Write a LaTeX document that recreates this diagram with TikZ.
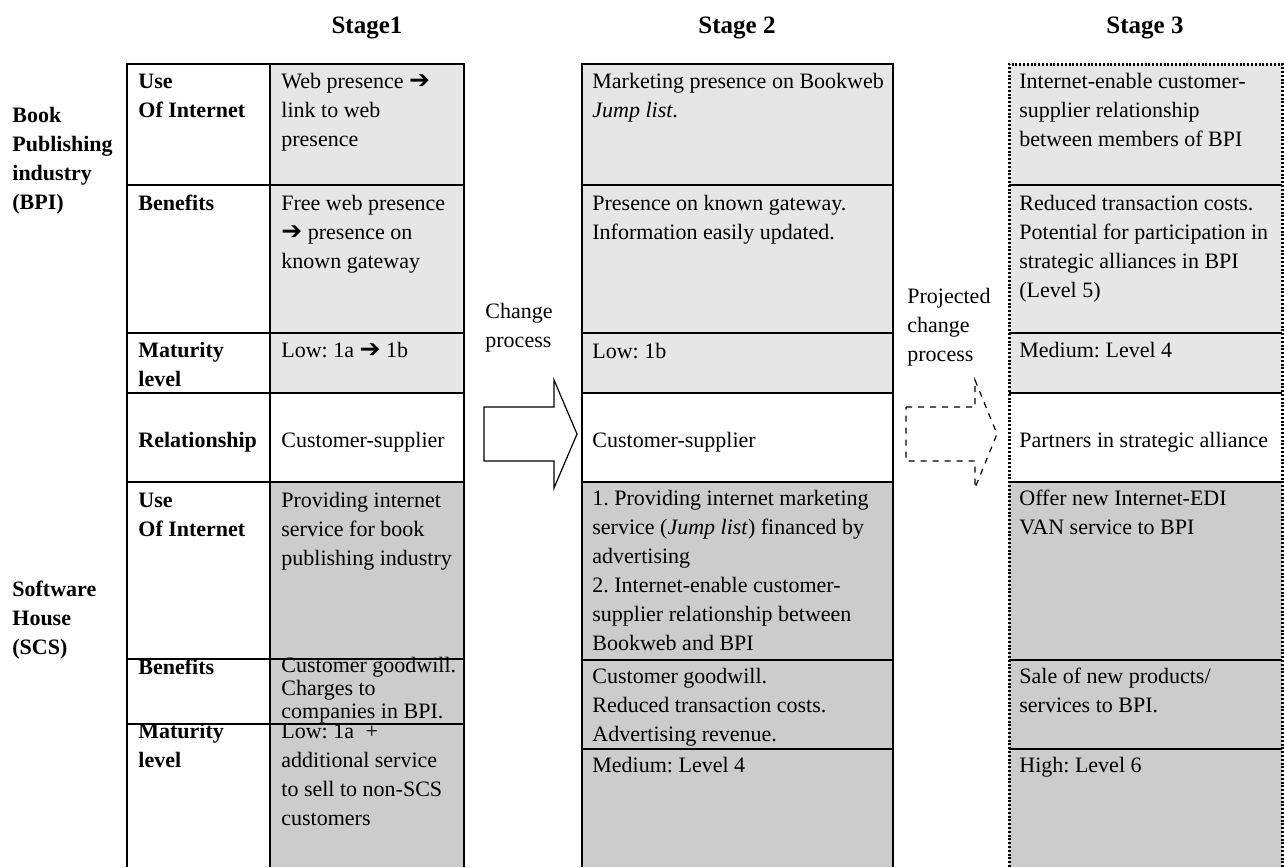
\documentclass[tikz,border=0pt]{standalone}
\usepackage{fontspec}
\setmainfont{Liberation Serif}
\newfontfamily\symfont{DejaVu Sans}
\definecolor{bpigray}{HTML}{E6E6E6}
\definecolor{scsgray}{HTML}{CCCCCC}
\newcommand{\arr}{{\symfont\fontsize{12.5}{12}\selectfont ➔}}
\newcommand{\topstrut}{\rule{0pt}{12pt}}

\begin{document}
\begin{tikzpicture}[x=0.5pt, y=-0.5pt,
    every node/.style={inner sep=0pt, font=\fontsize{11}{14.5}\selectfont\frenchspacing},
    cell/.style={anchor=north west, align=left},
    tightcell/.style={cell, font=\fontsize{11}{11.5}\selectfont\frenchspacing},
    head/.style={cell, font=\fontsize{11}{14.5}\selectfont\bfseries},
    stagetitle/.style={anchor=base, font=\fontsize{12.5}{15}\selectfont\bfseries},
    grid/.style={line width=0.6pt},
    dotborder/.style={line width=1.5pt, dash pattern=on 1pt off 0.9pt}]
  \useasboundingbox (0,0) rectangle (1284,867);

  % stage titles
  \node[stagetitle] (t1) at (367,33) {Stage1};
  \node[stagetitle] (t2) at (737,33) {Stage 2};
  \node[stagetitle] (t3) at (1145,33) {Stage 3};

  % side labels
  \node[head] (bpi) at (12,98) {\topstrut Book\\Publishing\\industry\\(BPI)};
  \node[head] (scs) at (12,572) {\topstrut Software\\House\\(SCS)};

  % cell fills
  \fill[bpigray] (270,64) rectangle (464,393);
  \fill[scsgray] (270,482) rectangle (464,867);
  \fill[bpigray] (582,64) rectangle (893,393);
  \fill[scsgray] (582,482) rectangle (893,867);
  \fill[bpigray] (1009,64) rectangle (1282,393);
  \fill[scsgray] (1009,482) rectangle (1282,867);

  % stage 1 grid
  \draw[grid] (127,867) -- (127,64) -- (464,64) -- (464,867);
  \draw[grid] (270,64) -- (270,867);
  \foreach \y in {185,333,393,482,659,724}
    \draw[grid] (127,\y) -- (464,\y);

  % stage 2 grid
  \draw[grid] (582,867) -- (582,64) -- (893,64) -- (893,867);
  \foreach \y in {185,333,393,482,660,749}
    \draw[grid] (582,\y) -- (893,\y);

  % stage 3 grid (projected)
  \foreach \y in {185,333,393,482,660,749}
    \draw[grid] (1009,\y) -- (1282,\y);
  \draw[dotborder] (1009,867) -- (1009,64) -- (1282,64) -- (1282,867);

  % change arrows
  \draw[grid, fill=white] (484,407) -- (554,407) -- (554,380) -- (577,434)
    -- (554,488) -- (554,461) -- (484,461) -- cycle;
  \draw[grid, dashed, fill=white] (906,407) -- (975,407) -- (975,380) -- (997,434)
    -- (975,488) -- (975,461) -- (906,461) -- cycle;
  \node[cell] (chg) at (485,294) {\topstrut Change\\process};
  \node[cell] (projchg) at (907,279) {\topstrut Projected\\change\\process};

  % row headings
  \node[head] (hbpiuse) at (138,64) {\topstrut Use\\Of Internet};
  \node[head] (hbpiben) at (138,186) {\topstrut Benefits};
  \node[head] (hbpimat) at (138,333) {\topstrut Maturity\\level};
  \node[head, anchor=base west] (hrel) at (138,447) {Relationship};
  \node[head] (hscsuse) at (138,483) {\topstrut Use\\Of Internet};
  \node[head] (hscsben) at (138,650) {\topstrut Benefits};
  \node[head] (hscsmat) at (138,714) {\topstrut Maturity\\level};

  % stage 1
  \node[cell] (s1bpiuse) at (281,64) {\topstrut Web presence \arr\\link to web\\presence};
  \node[cell] (s1bpiben) at (281,186) {\topstrut Free web presence\\\arr{} presence on\\known gateway};
  \node[cell] (s1bpimat) at (281,333) {\topstrut Low: 1a \arr{} 1b};
  \node[anchor=base west] (s1rel) at (281,447) {Customer-supplier};
  \node[cell] (s1scsuse) at (281,483) {\topstrut Providing internet\\service for book\\publishing industry};
  \node[tightcell] (s1scsben) at (281,648) {\topstrut Customer goodwill.\\Charges to\\companies in BPI.};
  \node[cell] (s1scsmat) at (281,714) {\topstrut Low: 1a \;+\\additional service\\to sell to non-SCS\\customers};

  % stage 2
  \node[cell] (s2bpiuse) at (592,64) {\topstrut Marketing presence on Bookweb\\\textit{Jump list}.};
  \node[cell] (s2bpiben) at (592,186) {\topstrut Presence on known gateway.\\Information easily updated.};
  \node[cell] (s2bpimat) at (592,334) {\topstrut Low: 1b};
  \node[anchor=base west] (s2rel) at (592,447) {Customer-supplier};
  \node[cell] (s2scsuse) at (592,481) {\topstrut 1. Providing internet marketing\\service (\textit{Jump list}) financed by\\advertising\\2. Internet-enable customer-\\supplier relationship between\\Bookweb and BPI};
  \node[cell] (s2scsben) at (592,659) {\topstrut Customer goodwill.\\Reduced transaction costs.\\Advertising revenue.};
  \node[cell] (s2scsmat) at (592,748) {\topstrut Medium: Level 4};

  % stage 3
  \node[cell] (s3bpiuse) at (1019,64) {\topstrut Internet-enable customer-\\supplier relationship\\between members of BPI};
  \node[cell] (s3bpiben) at (1019,186) {\topstrut Reduced transaction costs.\\Potential for participation in\\strategic alliances in BPI\\(Level 5)};
  \node[cell] (s3bpimat) at (1019,333) {\topstrut Medium: Level 4};
  \node[anchor=base west] (s3rel) at (1019,447) {Partners in strategic alliance};
  \node[cell] (s3scsuse) at (1019,481) {\topstrut Offer new Internet-EDI\\VAN service to BPI};
  \node[cell] (s3scsben) at (1019,659) {\topstrut Sale of new products/\\services to BPI.};
  \node[cell] (s3scsmat) at (1019,748) {\topstrut High: Level 6};
\end{tikzpicture}
\end{document}
